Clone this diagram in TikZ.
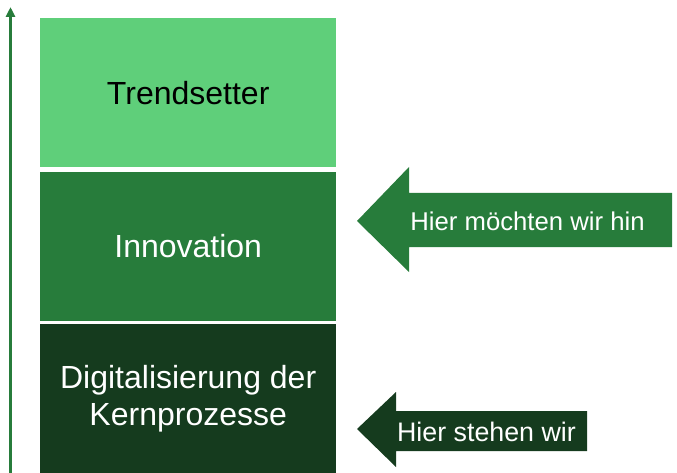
\documentclass[tikz,border=0pt]{standalone}
\usepackage{fontspec}
\setmainfont{Liberation Sans}
\usetikzlibrary{arrows.meta}
\definecolor{lightg}{RGB}{95,207,122}
\definecolor{midg}{RGB}{39,124,59}
\definecolor{darkg}{RGB}{21,59,30}
\tikzset{
  levelbox/.style={fill=#1, draw=none, minimum width=296pt, minimum height=149pt, anchor=north west, inner sep=0pt, align=center},
  boxtext/.style={font=\fontsize{32}{37}\selectfont},
  labeltext/.style={text=white, inner sep=0pt, anchor=center}
}
\begin{document}
\begin{tikzpicture}[x=1pt,y=-1pt]
\useasboundingbox (0,0) rectangle (677,473);
% vertical arrow
\coordinate (axbot) at (10.5,473);
\coordinate (axtop) at (10.5,7);
\draw[midg, line width=3pt, -{Triangle[width=9pt,length=10pt]}] (axbot) -- (axtop);
% level boxes
\node[levelbox=lightg, boxtext, text=black] (trend) at (40,18) {Trendsetter};
\node[levelbox=midg, boxtext, text=white, minimum height=148.5pt] (innov) at (40,172) {Innovation};
\node[levelbox=darkg, boxtext, text=white] (digi) at (40,324) {Digitalisierung der\\Kernprozesse};
% arrow 1
\fill[midg] (357,221) -- (409,167) -- (409,193) -- (672,193) -- (672,247) -- (409,247) -- (409,272) -- cycle;
\node[labeltext, font=\fontsize{25.7}{30}\selectfont] (wish) at (527.5,221) {Hier möchten wir hin};
% arrow 2
\fill[darkg] (357,429) -- (396,392) -- (396,411) -- (587,411) -- (587,451) -- (396,451) -- (396,467) -- cycle;
\node[labeltext, font=\fontsize{26.8}{30}\selectfont] (now) at (486.5,432) {Hier stehen wir};
\end{tikzpicture}
\end{document}
